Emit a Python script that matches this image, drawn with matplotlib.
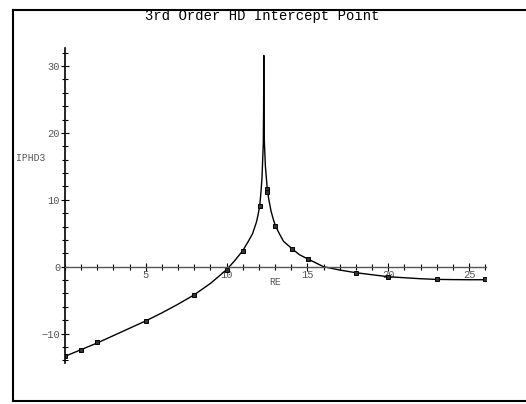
import matplotlib.pyplot as plt
from matplotlib.lines import Line2D
from matplotlib.ticker import MultipleLocator

# curve (two branches around the peak near RE = 12.3)
re_curve = [0, 1, 2, 3, 4, 5, 6, 7, 8, 9, 10, 10.5, 11, 11.32, 11.6, 11.85, 11.95,
            12.05, 12.12, 12.19, 12.27, 12.29, 12.3, 12.31, 12.33, 12.4, 12.52, 12.6,
            12.75, 12.9, 13.02, 13.25, 13.52, 14.04, 14.5, 15.03, 16, 17, 18, 19, 20,
            21, 22, 23, 24, 25, 26]
iphd3_curve = [-13.4, -12.4, -11.4, -10.3, -9.2, -8.1, -6.9, -5.6, -4.2, -2.5, -0.45,
               0.9, 2.4, 3.7, 4.9, 6.7, 7.8, 9.15, 11.0, 13.3, 18.5, 24.0, 31.6, 24.0,
               19.0, 15.0, 11.5, 10.2, 8.3, 7.0, 6.1, 5.0, 3.8, 2.7, 1.8, 1.15, 0.0,
               -0.5, -0.9, -1.2, -1.5, -1.65, -1.8, -1.9, -1.93, -1.95, -1.95]

# measured points (squares)
re_pts = [0, 1, 2, 5, 8, 10, 11, 12.05, 12.52, 12.52, 13.02, 14.04, 15.03, 18, 20, 23, 26]
iphd3_pts = [-13.4, -12.4, -11.3, -8.1, -4.2, -0.45, 2.4, 9.15, 11.6, 11.2, 6.1,
             2.7, 1.1, -0.9, -1.5, -1.9, -1.9]

mono = 'Liberation Mono'
grey = '#555555'

fig = plt.figure(figsize=(5.26, 4.04), dpi=100)
ax = fig.add_axes([65 / 526, 41 / 404, 421 / 526, 315 / 404])

ax.plot(re_curve, iphd3_curve, color='black', lw=1.0)
ax.plot(re_pts, iphd3_pts, 's', color='black', ms=3.4, mfc='#333333', mew=0.7)

ax.set_xlim(0, 26.05)
ax.set_ylim(-14.4, 32.7)

# axes crossing at zero
ax.spines['top'].set_visible(False)
ax.spines['right'].set_visible(False)
ax.spines['bottom'].set_position(('data', 0))
ax.spines['left'].set_position(('data', 0))
ax.spines['bottom'].set_color(grey)
ax.spines['left'].set_color('black')
ax.spines['bottom'].set_linewidth(1.0)
ax.spines['left'].set_linewidth(1.2)

ax.xaxis.set_major_locator(MultipleLocator(5))
ax.xaxis.set_minor_locator(MultipleLocator(1))
ax.yaxis.set_major_locator(MultipleLocator(10))
ax.yaxis.set_minor_locator(MultipleLocator(2))
ax.tick_params(which='major', direction='inout', length=6, width=0.8, color='black',
               labelsize=7.5, labelcolor=grey, pad=0.5)
ax.tick_params(which='minor', direction='inout', length=4, width=0.8, color='black')
ax.tick_params(axis='x', pad=-0.5)

ax.set_xticks([5, 10, 15, 20, 25])
ax.set_xticklabels(['5', '10', '15', '20', '25'], family=mono)
ax.set_yticks([-10, 0, 10, 20, 30])
ax.set_yticklabels(['\u221210', '0', '10', '20', '30'], family=mono)

fig.text(275 / 526, 1 - 282 / 404, 'RE', family=mono, fontsize=7, color=grey,
         ha='center', va='center')
fig.text(31 / 526, 1 - 158 / 404, 'IPHD3', family=mono, fontsize=7, color=grey,
         ha='center', va='center')
fig.text(262 / 526, 1 - 16 / 404, '3rd Order HD Intercept Point', family=mono,
         fontsize=10, color='black', ha='center', va='center')

# outer frame (open on the right)
fig.add_artist(Line2D([13 / 526, 1], [1 - 10 / 404] * 2, color='black', lw=1.5))
fig.add_artist(Line2D([13 / 526, 1], [1 - 401 / 404] * 2, color='black', lw=1.5))
fig.add_artist(Line2D([13 / 526] * 2, [1 - 10 / 404, 1 - 401 / 404], color='black', lw=1.5))

fig.savefig('out.png', dpi=100)
